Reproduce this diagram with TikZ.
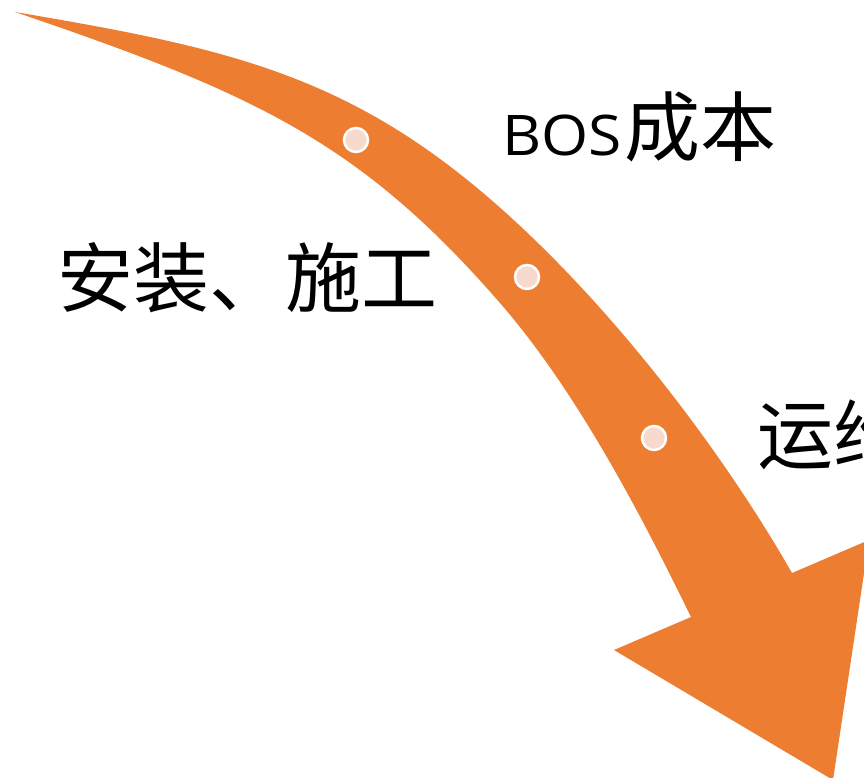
\documentclass[tikz,border=0pt]{standalone}
\usepackage{fontspec}
\newfontfamily\cjk{Noto Sans CJK SC}
\newfontfamily\latinsans{Open Sans}
\definecolor{arroworange}{RGB}{237,125,49}
\definecolor{dotpink}{RGB}{248,217,206}
\begin{document}
\begin{tikzpicture}[x=1pt,y=-1pt,
  dot/.style={circle,fill=dotpink,draw=white,line width=2.5pt,minimum size=24pt,inner sep=0pt},
  cjklabel/.style={anchor=base west,inner sep=0pt,font=\cjk\fontsize{76}{80}\selectfont},
  latlabel/.style={anchor=base west,inner sep=0pt,font=\latinsans\fontsize{56}{60}\selectfont}]
\useasboundingbox (0,0) rectangle (864,778);
\clip (0,0) rectangle (864,778);
% curved arrow
\fill[arroworange]
  (15,12) .. controls (245,51) and (370,78.4) .. (540,245)
  .. controls (640,343) and (732,468) .. (792,573)
  -- (869,540) -- (833,780) -- (614,650) -- (691,617)
  .. controls (646,525) and (580,395) .. (500,303)
  .. controls (360,142) and (255,93.6) .. (15,12)
  -- cycle;
% dots
\node[dot] (d1) at (356,140) {};
\node[dot] (d2) at (527,277) {};
\node[dot] (d3) at (654,438) {};
% labels
\node[latlabel] (bos) at (502,156) {\scalebox{1.08}[1]{BOS}};
\node[cjklabel] (cb) at (bos.base east) {\hspace{2pt}成本};
\node[cjklabel] (az) at (57,306) {安装、施工};
\node[cjklabel] (yw) at (757,463) {运维};
\end{tikzpicture}
\end{document}
